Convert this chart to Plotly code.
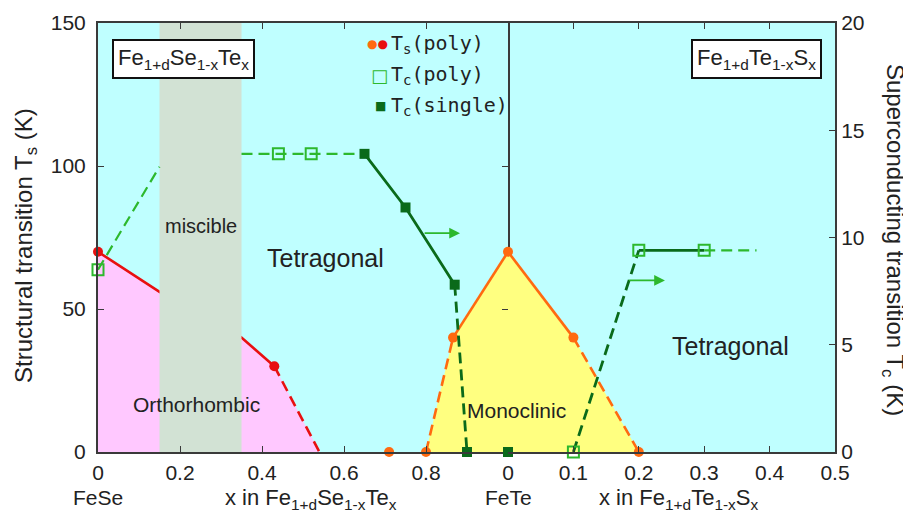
import plotly.graph_objects as go

# ---------------- data ----------------
# Fe1+dSe1-xTex side (x from 0 = FeSe to 1 = FeTe)
se_ts_red_x = [0.0, 0.43]            # Ts (poly), red points
se_ts_red_y = [70, 30]
se_ts_red_solid_x = [0.0, 0.15, 0.35, 0.43]
se_ts_red_solid_y = [70, 56, 40, 30]
se_ts_red_dash_x = [0.43, 0.54]
se_ts_red_dash_y = [30, 0]

se_ts_or_x = [0.71, 0.80, 0.866]      # Ts (poly), orange points
se_ts_or_y = [0, 0, 40]
se_ts_or_dash_x = [0.80, 0.866]
se_ts_or_dash_y = [0, 40]
se_ts_or_solid_x = [0.866, 1.0]
se_ts_or_solid_y = [40, 70]

se_tc_poly_x = [0.0, 0.44, 0.52]      # Tc (poly)
se_tc_poly_y = [8.5, 13.9, 13.9]
se_tc_guide1_x = [0.0, 0.15]
se_tc_guide1_y = [8.5, 13.3]
se_tc_guide2_x = [0.35, 0.44, 0.52, 0.65]
se_tc_guide2_y = [13.9, 13.9, 13.9, 13.9]

se_tc_single_x = [0.65, 0.75, 0.87, 0.90]   # Tc (single)
se_tc_single_y = [13.9, 11.4, 7.8, 0]
se_tc_single_solid_x = [0.65, 0.75, 0.87]
se_tc_single_solid_y = [13.9, 11.4, 7.8]
se_tc_single_dash_x = [0.87, 0.90]
se_tc_single_dash_y = [7.8, 0]

# FeTe end member (x = 0 on the S side axis)
fete_x = [0.0]
fete_ts = [70]
fete_tc_single = [0]

# Fe1+dTe1-xSx side (x from 0 = FeTe to 0.5)
s_ts_x = [0.1, 0.2]
s_ts_y = [40, 0]
s_ts_solid_x = [0.0, 0.1]
s_ts_solid_y = [70, 40]
s_ts_dash_x = [0.1, 0.2]
s_ts_dash_y = [40, 0]

s_tc_poly_x = [0.1, 0.2, 0.3]
s_tc_poly_y = [0, 9.4, 9.4]
s_tc_dash_x = [0.1, 0.2]
s_tc_dash_y = [0, 9.4]
s_tc_solid_x = [0.2, 0.3]
s_tc_solid_y = [9.4, 9.4]
s_tc_guide_x = [0.3, 0.38]
s_tc_guide_y = [9.4, 9.4]

miscible_range = [0.15, 0.35]
ortho_x = [0.0, 0.0, 0.15, 0.35, 0.43, 0.54]
ortho_y = [0, 70, 56, 40, 30, 0]
mono_se_x = [0.80, 0.866, 1.0, 1.0]
mono_se_y = [0, 40, 70, 0]
mono_s_x = [0.0, 0.0, 0.1, 0.2]
mono_s_y = [0, 70, 40, 0]

left_ticks = [0, 0.2, 0.4, 0.6, 0.8]
right_ticks = [0, 0.1, 0.2, 0.3, 0.4, 0.5]
ts_ticks = [0, 50, 100, 150]
tc_ticks = [0, 5, 10, 15, 20]

# ---------------- style ----------------
CYAN = "#BFFFFF"
PINK = "#FFC8FF"
YELLOW = "#FFFF80"
GREY = "#D2E2D4"
RED = "#E81010"
ORANGE = "#FF6A10"
LGREEN = "#2DB82D"
DGREEN = "#0A6A1A"
FRAME = "#3A3A3A"
FONT = "Liberation Sans, Arial, sans-serif"
DASH = "11px,6px"

fig = go.Figure()


def line(x, y, xa, ya, color, dash="solid", width=2.6):
    fig.add_trace(go.Scatter(x=x, y=y, xaxis=xa, yaxis=ya, mode="lines",
                             line=dict(color=color, width=width, dash=dash),
                             hoverinfo="skip", showlegend=False))


def fill(x, y, xa, ya, color):
    fig.add_trace(go.Scatter(x=x, y=y, xaxis=xa, yaxis=ya, mode="lines",
                             fill="toself", fillcolor=color,
                             line=dict(width=0), hoverinfo="skip",
                             showlegend=False))


def pts(x, y, xa, ya, color, symbol, size, lw=0):
    fig.add_trace(go.Scatter(x=x, y=y, xaxis=xa, yaxis=ya, mode="markers",
                             marker=dict(color=color, symbol=symbol, size=size,
                                         line=dict(width=lw, color=color)),
                             cliponaxis=False,
                             hoverinfo="skip", showlegend=False))


# phase fills (Ts scale)
fill(ortho_x, ortho_y, "x", "y", PINK)
fill(mono_se_x, mono_se_y, "x", "y", YELLOW)
fill(mono_s_x, mono_s_y, "x2", "y", YELLOW)

# Ts lines
line(se_ts_red_solid_x, se_ts_red_solid_y, "x", "y", RED)
line(se_ts_red_dash_x, se_ts_red_dash_y, "x", "y", RED, DASH)
line(se_ts_or_dash_x, se_ts_or_dash_y, "x", "y", ORANGE, DASH)
line(se_ts_or_solid_x, se_ts_or_solid_y, "x", "y", ORANGE)
line(s_ts_solid_x, s_ts_solid_y, "x2", "y", ORANGE)
line(s_ts_dash_x, s_ts_dash_y, "x2", "y", ORANGE, DASH)

# Ts markers
pts(se_ts_red_x, se_ts_red_y, "x", "y", RED, "circle", 10)
pts(se_ts_or_x, se_ts_or_y, "x", "y", ORANGE, "circle", 10)
pts(s_ts_x, s_ts_y, "x2", "y", ORANGE, "circle", 10)
pts(fete_x, fete_ts, "x2", "y", ORANGE, "circle", 10)

# miscible band (drawn on Tc overlay so it sits over Ts lines)
fill([miscible_range[0], miscible_range[1], miscible_range[1], miscible_range[0]],
     [0, 0, 20, 20], "x", "y2", GREY)

# Tc lines
line(se_tc_guide1_x, se_tc_guide1_y, "x", "y2", LGREEN, DASH, 2.2)
line(se_tc_guide2_x, se_tc_guide2_y, "x", "y2", LGREEN, DASH, 2.2)
line(se_tc_single_solid_x, se_tc_single_solid_y, "x", "y2", DGREEN, "solid", 2.8)
line(se_tc_single_dash_x, se_tc_single_dash_y, "x", "y2", DGREEN, DASH, 2.8)
line(s_tc_dash_x, s_tc_dash_y, "x2", "y2", DGREEN, DASH, 2.8)
line(s_tc_solid_x, s_tc_solid_y, "x2", "y2", DGREEN, "solid", 2.8)
line(s_tc_guide_x, s_tc_guide_y, "x2", "y2", LGREEN, DASH, 2.2)

# Tc markers
pts(se_tc_single_x, se_tc_single_y, "x", "y2", DGREEN, "square", 10)
pts(fete_x, fete_tc_single, "x2", "y2", DGREEN, "square", 10)
pts(se_tc_poly_x, se_tc_poly_y, "x", "y2", LGREEN, "square-open", 11, 2)
pts(s_tc_poly_x, s_tc_poly_y, "x2", "y2", LGREEN, "square-open", 11, 2)

# page body has an 8px margin: figure is placed at (8, 8) of the window
OFF = 8
W, H = 911 - OFF - 1, 517 - OFF - 1
PL, PR, PT, PB = 98, 835, 23, 452   # plot area in window pixels
split = 410 / 737
tickfont = dict(family=FONT, size=21, color="#222222")
axis_common = dict(showline=True, linecolor=FRAME, linewidth=2, ticks="inside",
                   ticklen=6, tickcolor=FRAME, tickwidth=1.2, showgrid=False,
                   zeroline=False, tickfont=tickfont)

fig.update_layout(
    width=W, height=H,
    margin=dict(l=PL - OFF, r=W - (PR - OFF), t=PT - OFF, b=H - (PB - OFF),
                autoexpand=False),
    paper_bgcolor="white", plot_bgcolor=CYAN,
    font=dict(family=FONT, color="#222222"),
    showlegend=False,
    xaxis=dict(domain=[0, split], range=[0, 1], tickvals=left_ticks,
               ticktext=[f"{v:g}" for v in left_ticks], anchor="y",
               ticklabelstandoff=1, mirror="ticks", **axis_common),
    xaxis2=dict(domain=[split, 1], range=[0, 0.5], tickvals=right_ticks,
                ticktext=[f"{v:g}" for v in right_ticks], anchor="y2",
                ticklabelstandoff=1, mirror="ticks", **axis_common),
    yaxis=dict(range=[0, 150], tickvals=ts_ticks, anchor="x", side="left",
               ticklabelstandoff=6, mirror="ticks", **axis_common),
    yaxis2=dict(range=[0, 20], tickvals=tc_ticks, anchor="x2", side="right",
                overlaying="y", ticklabelstandoff=0, mirror=False, **axis_common),
)

ann = []


def px(xp):
    return (xp - PL) / (PR - PL)


def py(yp):
    return (PB - yp) / (PB - PT)


def text(t, x, y, size, xref="paper", yref="paper", angle=0, color="#222222",
         family=FONT, xanchor="center", **kw):
    ann.append(dict(text=t, x=x, y=y, xref=xref, yref=yref, showarrow=False,
                    textangle=angle, xanchor=xanchor, yanchor="middle",
                    font=dict(family=family, size=size, color=color), **kw))


# phase labels
text("miscible", 0.25, 79, 20, "x", "y")
text("Tetragonal", 0.555, 68, 25, "x", "y")
text("Orthorhombic", 0.24, 16.5, 21, "x", "y")
text("Monoclinic", 0.013, 14.5, 21, "x2", "y")
text("Tetragonal", 0.34, 37, 25, "x2", "y")

# compound boxes
text("Fe<sub>1+d</sub>Se<sub>1-x</sub>Te<sub>x</sub>", px(183), py(59), 22,
     bordercolor="#111111", borderwidth=2, borderpad=4, bgcolor="white")
text("Fe<sub>1+d</sub>Te<sub>1-x</sub>S<sub>x</sub>", px(756), py(59), 22,
     bordercolor="#111111", borderwidth=2, borderpad=4, bgcolor="white")

# legend
MONO = "DejaVu Sans Mono, monospace"
text(f"<span style='color:{ORANGE}'>●</span><span style='color:{RED}'>●</span>",
     px(377), py(44), 12, family="DejaVu Sans", xanchor="center")
text("T<sub>s</sub>(poly)", px(389), py(44), 20, family=MONO, xanchor="left")
text(f"<span style='color:{LGREEN}'>□</span>", px(379), py(75), 18,
     family="DejaVu Sans", xanchor="center")
text("T<sub>c</sub>(poly)", px(389), py(75), 20, family=MONO, xanchor="left")
text(f"<span style='color:{DGREEN}'>■</span>", px(380), py(106), 12,
     family="DejaVu Sans", xanchor="center")
text("T<sub>c</sub>(single)", px(389), py(106), 20, family=MONO, xanchor="left")

# axis titles
text("Structural transition T<sub>s</sub> (K)", px(25), py(246), 24, angle=-90)
text("Superconducting transition T<sub>c</sub> (K)", px(894), py(240), 24, angle=90)

# bottom labels
text("FeSe", px(98), py(497), 21)
text("x in Fe<sub>1+d</sub>Se<sub>1-x</sub>Te<sub>x</sub>", px(311), py(499), 22)
text("FeTe", px(508), py(497), 21)
text("x in Fe<sub>1+d</sub>Te<sub>1-x</sub>S<sub>x</sub>", px(678), py(499), 22)

# arrows pointing to Tc axis
ann.append(dict(x=0.883, y=10.2, ax=0.793, ay=10.2, xref="x", yref="y2",
                axref="x", ayref="y2", showarrow=True, arrowhead=2,
                arrowsize=1.2, arrowwidth=1.8, arrowcolor=LGREEN, text=""))
ann.append(dict(x=0.24, y=8.0, ax=0.183, ay=8.0, xref="x2", yref="y2",
                axref="x2", ayref="y2", showarrow=True, arrowhead=2,
                arrowsize=1.2, arrowwidth=1.8, arrowcolor=LGREEN, text=""))

fig.update_layout(annotations=ann)
fig.write_html("out.html")
